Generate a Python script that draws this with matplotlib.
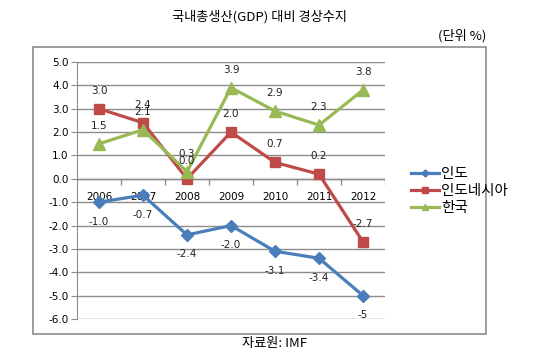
import matplotlib
matplotlib.use("Agg")
import matplotlib.pyplot as plt
from matplotlib.patches import Rectangle

plt.rcParams['font.family'] = ['Noto Sans CJK KR', 'DejaVu Sans']

years = ["2006", "2007", "2008", "2009", "2010", "2011", "2012"]
india = [-1.0, -0.7, -2.4, -2.0, -3.1, -3.4, -5.0]
indonesia = [3.0, 2.4, 0.0, 2.0, 0.7, 0.2, -2.7]
korea = [1.5, 2.1, 0.3, 3.9, 2.9, 2.3, 3.8]
india_labels = ["-1.0", "-0.7", "-2.4", "-2.0", "-3.1", "-3.4", "-5"]
series_names = ["인도", "인도네시아", "한국"]

W, H = 553, 360
fig = plt.figure(figsize=(W / 100, H / 100), dpi=100)

# outer chart frame
fig.patches.append(Rectangle((33 / W, 1 - 334 / H), (486 - 33) / W, (334 - 47) / H,
                             transform=fig.transFigure, fill=False,
                             edgecolor="#8c8c8c", linewidth=1.2))

ax = fig.add_axes([77 / W, 1 - 319 / H, (385 - 77) / W, (319 - 62) / H])
x = [i + 0.5 for i in range(len(years))]

ax.set_xlim(0, len(years))
ax.set_ylim(-6, 5)
ax.set_yticks(range(-6, 6))
ax.set_yticklabels([f"{v:.1f}" for v in range(-6, 6)], fontsize=7.5, family="DejaVu Sans")
ax.set_xticks([])
ax.tick_params(axis="y", length=4, color="#8c8c8c", pad=2)
for s in ["top", "right", "bottom"]:
    ax.spines[s].set_visible(False)
ax.spines["left"].set_color("#8c8c8c")
ax.grid(axis="y", color="#8c8c8c", linewidth=1.0)
ax.set_axisbelow(True)

# category axis through zero
ax.axhline(0, color="#8c8c8c", linewidth=1.0, zorder=1)
ax.vlines(range(1, len(years) + 1), -0.25, 0, color="#8c8c8c", linewidth=1.0, zorder=1)
for xi, yr in zip(x, years):
    ax.annotate(yr, (xi, 0), xytext=(0, -13), textcoords="offset points",
                ha="center", va="center", fontsize=7.5, family="DejaVu Sans")

blue, red, green = "#4a7ebb", "#be4b48", "#98b954"
ax.plot(x, india, color=blue, lw=2.3, marker="D", ms=6, label=series_names[0], zorder=3)
ax.plot(x, indonesia, color=red, lw=2.3, marker="s", ms=7.5, label=series_names[1], zorder=3)
ax.plot(x, korea, color=green, lw=2.3, marker="^", ms=8, label=series_names[2], zorder=3)

for xi, v, t in zip(x, india, india_labels):
    ax.annotate(t, (xi, v), xytext=(0, -14), textcoords="offset points",
                ha="center", va="center", fontsize=7.5, family="DejaVu Sans", color="#222222")
for xi, v in zip(x, indonesia):
    ax.annotate(f"{v:.1f}", (xi, v), xytext=(0, 13), textcoords="offset points",
                ha="center", va="center", fontsize=7.5, family="DejaVu Sans", color="#222222")
for xi, v in zip(x, korea):
    ax.annotate(f"{v:.1f}", (xi, v), xytext=(0, 13), textcoords="offset points",
                ha="center", va="center", fontsize=7.5, family="DejaVu Sans", color="#222222")

fig.legend(loc="center left", bbox_to_anchor=(398 / W, 1 - 191 / H), frameon=False,
           fontsize=10.5, handlelength=1.9, handletextpad=0.15, labelspacing=0.2,
           markerscale=0.6)

fig.text(260 / W, 1 - 17 / H, "국내총생산(GDP) 대비 경상수지", ha="center", va="center", fontsize=9.5)
fig.text(486 / W, 1 - 36 / H, "(단위 %)", ha="right", va="center", fontsize=9.5)
fig.text(275 / W, 1 - 344 / H, "자료원: IMF", ha="center", va="center", fontsize=9.5)

fig.savefig("out.png", dpi=100)
